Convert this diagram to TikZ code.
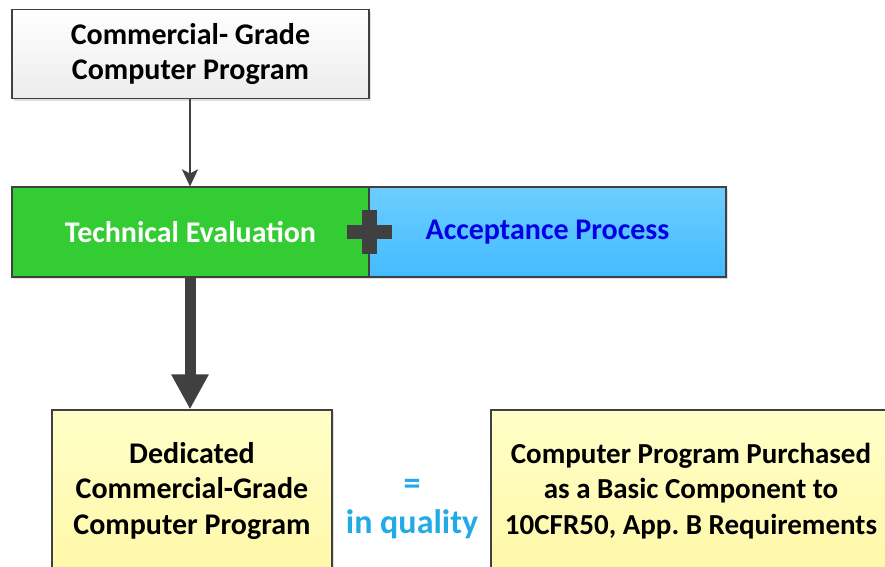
\documentclass[tikz,border=0pt]{standalone}
\usepackage{fontspec}
\setmainfont{Carlito}
\usetikzlibrary{arrows.meta,shadows}
\definecolor{linegray}{HTML}{404040}
\definecolor{evalgreen}{HTML}{33CC33}
\definecolor{accblue}{HTML}{5CC8FF}
\definecolor{accbluedark}{HTML}{44BBFF}
\definecolor{pale}{HTML}{FFFFC8}
\definecolor{paledark}{HTML}{FFF8A8}
\definecolor{qualblue}{HTML}{22AAE8}
\frenchspacing
\begin{document}
\begin{tikzpicture}[x=1pt,y=-1pt,
    box/.style={rectangle, draw=linegray, line width=1.2pt, align=center,
      font=\fontsize{30}{35.5}\selectfont\bfseries,
      drop shadow={shadow xshift=2pt, shadow yshift=-2pt, opacity=0.25}},
    plusbar/.style={fill=linegray, draw=none}]
    \clip (0,0) rectangle (885,566);
    \node[box, minimum width=357pt, minimum height=89pt, top color=white, bottom color=gray!15] (cgcp) at (190.5,54) {Commercial- Grade\\Computer Program};
    \node[box, minimum width=357pt, minimum height=90pt, fill=evalgreen, text=white] (tech) at (190.5,232) {Technical Evaluation};
    \node[box, minimum width=357pt, minimum height=90pt, top color=accblue!90, bottom color=accbluedark, text=blue!90!black] (accept) at (547.5,232) {Acceptance Process};
    \fill[plusbar] (362,210) rectangle (377,254);
    \fill[plusbar] (347,225) rectangle (392,239);
    \node[box, minimum width=280pt, minimum height=162pt, top color=pale, bottom color=paledark] (dcgcp) at (192,491) {Dedicated\\Commercial-Grade\\Computer Program};
    \node[box, minimum width=400pt, minimum height=162pt, top color=pale, bottom color=paledark, font=\fontsize{29}{35.5}\selectfont\bfseries] (basic) at (691,491) {Computer Program Purchased\\as a Basic Component to\\10CFR50, App. B Requirements};
    \node[text=qualblue, font=\fontsize{34}{39}\selectfont\bfseries, align=center] (equal) at (412,509) {=\\in quality};
    \draw[linegray, line width=2pt, -{Stealth[length=17pt, width=16pt, inset=4pt]}] (cgcp.south -| 190,0) -- (tech.north -| 190,0);
    \draw[linegray, line width=11pt, -{Triangle[length=35pt, width=35pt]}] (tech.south -| 190,0) -- (dcgcp.north -| 190,0);
\end{tikzpicture}
\end{document}
